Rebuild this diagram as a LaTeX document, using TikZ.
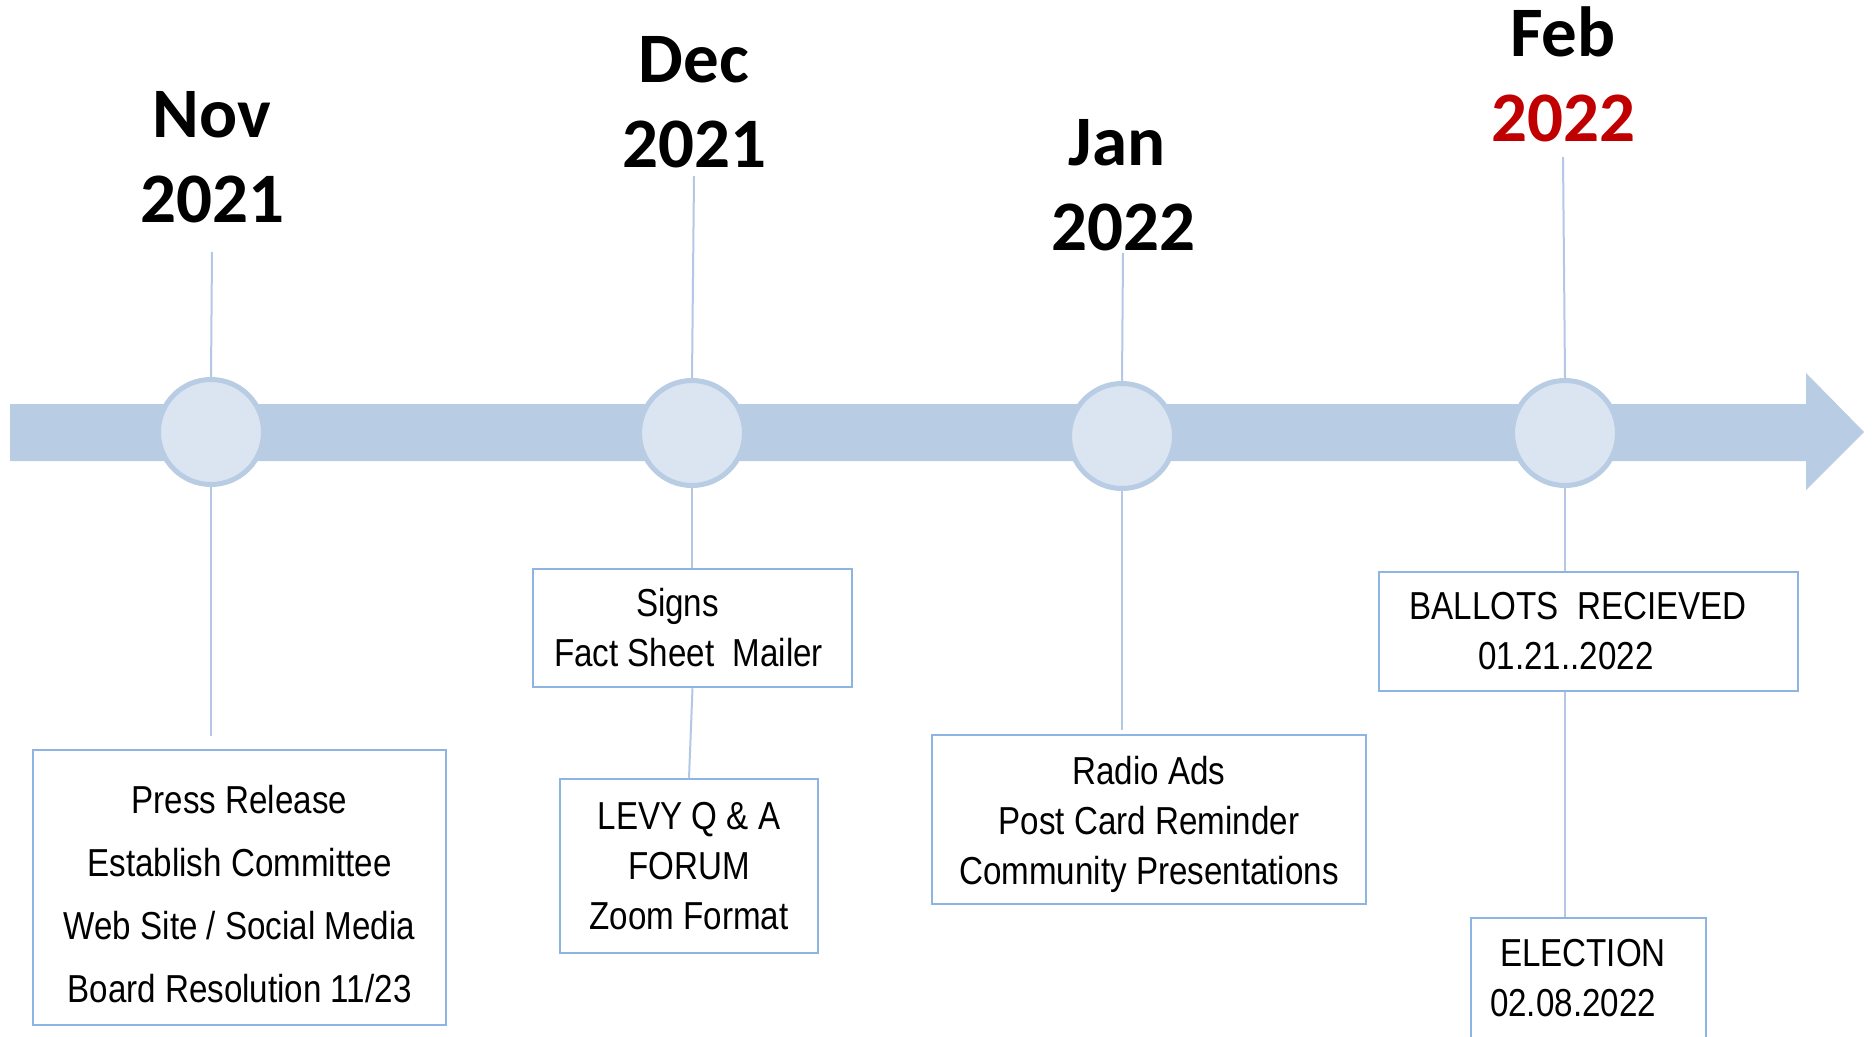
\documentclass[tikz,border=0pt]{standalone}
\usepackage{fontspec}
\setmainfont{Liberation Sans}
\newfontfamily\monthfont{Carlito}
\newfontfamily\boxfont[FakeStretch=0.85]{Liberation Sans}
\usetikzlibrary{shapes.geometric}
\definecolor{barblue}{HTML}{B8CCE4}
\definecolor{circfill}{HTML}{DBE4F1}
\definecolor{boxline}{HTML}{8DB4E2}
\definecolor{connline}{HTML}{B4C8E6}
\definecolor{darkred}{HTML}{C00000}
\begin{document}
\begin{tikzpicture}[x=1pt,y=-1pt,
  month/.style={font=\monthfont\bfseries\fontsize{71}{85}\selectfont, align=center, inner sep=0pt, anchor=south},
  dot/.style={ellipse, draw=barblue, fill=circfill, line width=5pt, minimum width=105pt, minimum height=105pt, inner sep=0pt},
  infobox/.style={draw=boxline, line width=2.5pt, fill=white, align=center, inner sep=0pt, font=\boxfont\fontsize{39}{50}\selectfont},
  conn/.style={draw=connline, line width=2pt}]
\clip (0,0) rectangle (1873,1036);
\fill[white] (0,0) rectangle (1873,1036);
% timeline arrow
\fill[barblue] (10,404) -- (1806,404) -- (1806,373) -- (1864,432) -- (1806,490) -- (1806,461) -- (10,461) -- cycle;
% milestones
\node[dot] (c1) at (211,432) {};
\node[dot] (c2) at (692,433) {};
\node[dot] (c3) at (1122,436) {};
\node[dot] (c4) at (1565,433) {};
% month labels
\node[month] (m1) at (212,223) {Nov\\2021};
\node[month] (m2) at (694,168) {Dec\\2021};
\node[month] (m3) at (1123,251) {Jan\hspace*{12pt}\\2022};
\node[month] (m4) at (1563,142) {Feb\\\textcolor{darkred}{2022}};
% boxes
\node[infobox, minimum width=413pt, minimum height=275pt] (b1) at (239.5,887.5)
  {\rule{0pt}{42pt}Press Release\\[13pt]Establish Committee\\[13pt]Web Site / Social Media\\[13pt]Board Resolution 11/23};
\node[infobox, minimum width=319pt, minimum height=118pt] (b2) at (692.5,628)
  {Signs\hspace*{30pt}\\Fact Sheet\ \ Mailer\hspace*{8pt}};
\node[infobox, minimum width=258pt, minimum height=174pt] (b3) at (689,866)
  {LEVY Q \& A\\FORUM\\Zoom Format};
\node[infobox, minimum width=434pt, minimum height=169pt] (b4) at (1149,819.5)
  {\rule{0pt}{38pt}Radio Ads\\Post Card Reminder\\Community Presentations};
\node[infobox, minimum width=419pt, minimum height=119pt] (b5) at (1588.5,631.5)
  {BALLOTS\ \ RECIEVED\hspace*{21pt}\\01.21..2022\hspace*{45pt}};
\node[infobox, minimum width=235pt, minimum height=120pt] (b6) at (1588.5,978)
  {ELECTION\hspace*{11pt}\\02.08.2022\hspace*{31pt}};
% connectors
\draw[conn] ([yshift=-29pt]m1.south) -- (c1.north);
\draw[conn] ([yshift=-8pt]m2.south) -- (c2.north);
\draw[conn] ([yshift=-2pt]m3.south) -- (c3.north);
\draw[conn] ([yshift=-15pt]m4.south) -- (c4.north);
\draw[conn] (c1.south) -- ([yshift=13pt]c1.south |- b1.north);
\draw[conn] (c2.south) -- (c2.south |- b2.north);
\draw[conn] (b2.south) -- (b3.north);
\draw[conn] (c3.south) -- ([yshift=4pt]c3.south |- b4.north);
\draw[conn] (c4.south) -- (c4.south |- b5.north);
\draw[conn] (c4 |- b5.south) -- (c4 |- b6.north);
\end{tikzpicture}
\end{document}
